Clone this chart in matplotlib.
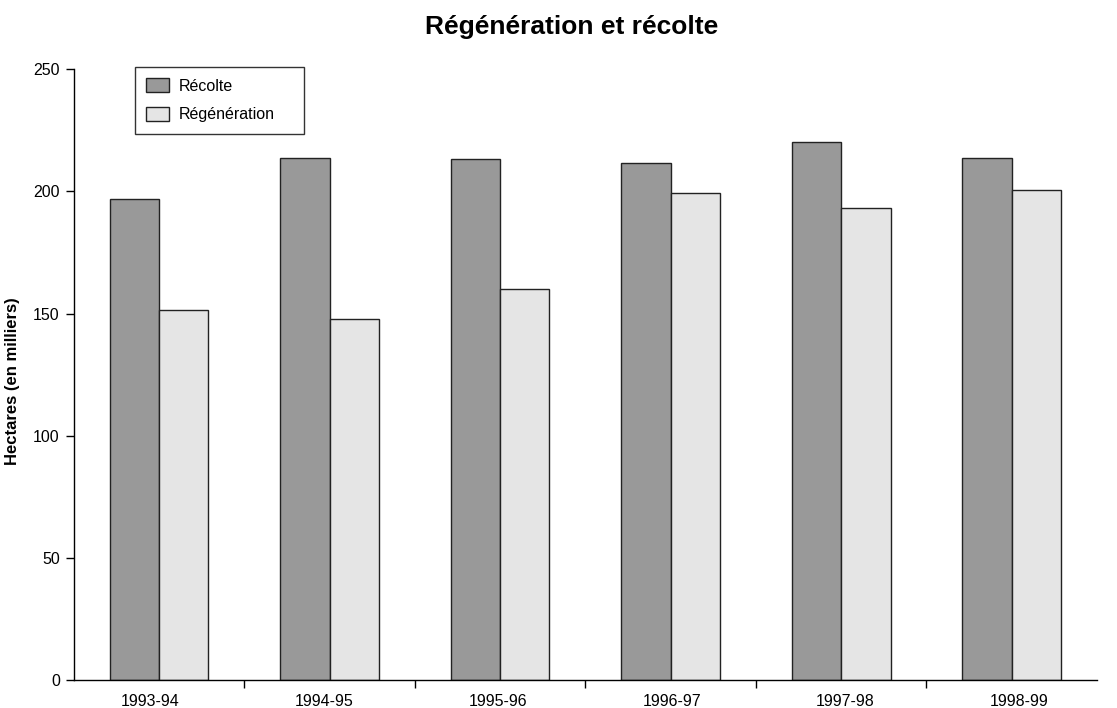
import matplotlib
matplotlib.use("agg")
import matplotlib.pyplot as plt
import numpy as np

plt.rcParams['font.family'] = ['Liberation Sans', 'DejaVu Sans']

# data
years = ['1993-94', '1994-95', '1995-96', '1996-97', '1997-98', '1998-99']
recolte = [196.7, 213.7, 213.1, 211.8, 220.1, 213.6]
regeneration = [151.4, 147.8, 159.9, 199.5, 193.2, 200.6]

fig = plt.figure(figsize=(11.17, 7.08), dpi=100)
ax = fig.add_axes([0.066, 0.040, 0.916, 0.862])

x = np.arange(len(years))
w = 0.29
ax.bar(x - w / 2, recolte, w, color='#999999', edgecolor='#222222', linewidth=1, label='Récolte')
ax.bar(x + w / 2, regeneration, w, color='#e5e5e5', edgecolor='#222222', linewidth=1, label='Régénération')

ax.set_xlim(-0.5, len(years) - 0.5)
ax.set_ylim(0, 250)
ax.set_yticks([0, 50, 100, 150, 200, 250])
# labels in the reference sit slightly off the group centres (spread a bit wider)
ax.set_xticks(x * 1.02 - 0.054)
ax.set_xticklabels(years, fontsize=11.5)
ax.set_xticks(np.arange(0.5, len(years) - 0.5, 1), minor=True)
ax.tick_params(axis='x', which='major', length=0, pad=10)
ax.tick_params(axis='x', which='minor', length=6, width=1, direction='out')
ax.tick_params(axis='y', length=6, width=1, direction='out', labelsize=11.5, pad=4)

for s in ['top', 'right']:
    ax.spines[s].set_visible(False)
ax.spines['left'].set_linewidth(1)
ax.spines['bottom'].set_linewidth(1)

ax.set_ylabel('Hectares (en milliers)', fontsize=12, fontweight='bold')
ax.yaxis.set_label_coords((20 - 74) / 1023, 0.49)
fig.text(572 / 1117, 1 - 27 / 708, 'Régénération et récolte', fontsize=19,
         fontweight='bold', ha='center', va='center')

leg = ax.legend(loc='upper left', bbox_to_anchor=(135 / 1117, 1 - 132 / 708, 169 / 1117, 65 / 708),
                bbox_transform=fig.transFigure, mode='expand', borderaxespad=0, fancybox=False,
                edgecolor='#333333', fontsize=11.5, handlelength=1.44, handleheight=0.94,
                handletextpad=0.63, labelspacing=0.85, borderpad=0.7, framealpha=1)
leg.get_frame().set_linewidth(1)

fig.savefig('out.png', dpi=100)
